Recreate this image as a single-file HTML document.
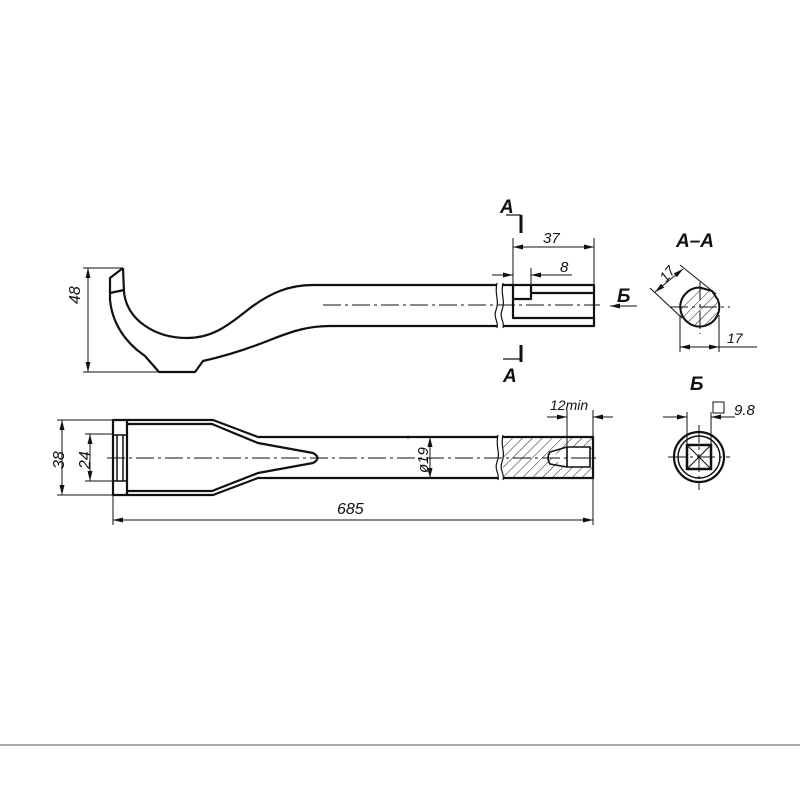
<!DOCTYPE html>
<html><head><meta charset="utf-8"><style>
html,body{margin:0;padding:0;background:#fff;}
svg{display:block;}
text{font-family:"Liberation Sans",sans-serif;font-style:italic;fill:#111;}
</style></head><body>
<svg width="800" height="800" viewBox="0 0 800 800" xmlns="http://www.w3.org/2000/svg">
<defs>
<pattern id="h" width="7" height="7" patternUnits="userSpaceOnUse" patternTransform="rotate(45)">
<line x1="0" y1="0" x2="0" y2="7" stroke="#222" stroke-width="1"/></pattern>
<marker id="a" markerWidth="10" markerHeight="6" refX="10" refY="3" orient="auto-start-reverse" markerUnits="userSpaceOnUse">
<path d="M0,0.5 L10,3 L0,5.5 Z" fill="#111"/></marker>
</defs>
<g fill="none" stroke="#111" stroke-width="2.2" stroke-linejoin="round">
<path d="M123,268 L110,278 L110,300 C112,320 122,337 137,350 L145,356 L159,372 L195,372 L203,361 C230,355 250,348 270,340 C295,330 310,326 330,326 L497,326"/>
<path d="M123,268 L124,292 C127,320 155,338 187,338 C210,338 225,328 245,312 C270,292 290,285 313,285 L497,285"/>
<path d="M110,293 L124,290"/>
<path d="M503,285 L594,285 L594,326 L503,326"/>
<path d="M513,285 L513,318 L594,318 M531,293 L594,293 M513,299 L531,299 L531,285"/>
<rect x="113" y="420" width="14" height="75"/>
<path d="M113,435 L127,435 M113,481 L127,481 M117,435 L117,481 M123,435 L123,481" stroke-width="1.5"/>
<path d="M127,420 L213,420 L258,437 L498,437 M127,495 L213,495 L258,478 L498,478"/>
<path d="M127,424 L212,424 L258,443 L313,453 Q322,458 313,463 L258,473 L212,491 L127,491"/>
<path d="M503,437 L593,437 L593,478 L503,478"/>
</g>
<path d="M503,437 L593,437 L593,478 L503,478 Z M550,458 L567,447 L590,447 L590,467 L567,467 Z" fill="url(#h)" fill-rule="evenodd" stroke="none"/>
<path d="M567,447 L550,452 Q546,458 550,464 L567,467 M567,447 L590,447 L590,467 L567,467 Z" fill="none" stroke="#111" stroke-width="1.6"/>
<g fill="none" stroke="#111" stroke-width="1.2">
<path d="M497,283 C494,295 500,300 496,310 C493,318 499,322 497,328"/>
<path d="M503,283 C500,295 506,300 502,310 C499,318 505,322 503,328"/>
<path d="M498,435 C495,447 501,452 497,462 C494,470 500,474 498,480"/>
<path d="M503,435 C500,447 506,452 502,462 C499,470 505,474 503,480"/>
</g>
<g stroke="#111" stroke-width="1" stroke-dasharray="18,4,3,4" fill="none">
<line x1="323" y1="305" x2="600" y2="305"/>
<line x1="107" y1="458" x2="600" y2="458"/>
<line x1="670" y1="307" x2="730" y2="307"/>
<line x1="700" y1="282" x2="700" y2="334"/>
<line x1="668" y1="457" x2="730" y2="457"/>
<line x1="699" y1="425" x2="699" y2="490"/>
</g>
<g stroke="#111" stroke-width="1" fill="none">
<line x1="83" y1="268" x2="123" y2="268"/><line x1="83" y1="372" x2="160" y2="372"/>
<line x1="88" y1="268" x2="88" y2="372" marker-start="url(#a)" marker-end="url(#a)"/>
<line x1="513" y1="238" x2="513" y2="285"/><line x1="594" y1="238" x2="594" y2="285"/>
<line x1="513" y1="247" x2="594" y2="247" marker-start="url(#a)" marker-end="url(#a)"/>
<line x1="531" y1="268" x2="531" y2="285"/>
<line x1="492" y1="275" x2="513" y2="275" marker-end="url(#a)"/>
<line x1="572" y1="275" x2="531" y2="275" marker-end="url(#a)"/>
<line x1="637" y1="306" x2="610" y2="306" marker-end="url(#a)"/>
<line x1="57" y1="420" x2="113" y2="420"/><line x1="57" y1="495" x2="113" y2="495"/>
<line x1="62" y1="420" x2="62" y2="495" marker-start="url(#a)" marker-end="url(#a)"/>
<line x1="85" y1="434" x2="113" y2="434"/><line x1="85" y1="481" x2="113" y2="481"/>
<line x1="90" y1="434" x2="90" y2="481" marker-start="url(#a)" marker-end="url(#a)"/>
<line x1="113" y1="495" x2="113" y2="525"/><line x1="593" y1="478" x2="593" y2="525"/>
<line x1="113" y1="520" x2="593" y2="520" marker-start="url(#a)" marker-end="url(#a)"/>
<line x1="430" y1="437" x2="430" y2="478" marker-start="url(#a)" marker-end="url(#a)"/>
<line x1="567" y1="410" x2="567" y2="447"/><line x1="593" y1="410" x2="593" y2="437"/>
<line x1="547" y1="417" x2="567" y2="417" marker-end="url(#a)"/>
<line x1="613" y1="417" x2="593" y2="417" marker-end="url(#a)"/>
<line x1="680" y1="315" x2="680" y2="352"/><line x1="719" y1="315" x2="719" y2="352"/>
<line x1="680" y1="347" x2="719" y2="347" marker-start="url(#a)" marker-end="url(#a)"/>
<line x1="719" y1="347" x2="757" y2="347"/>
<line x1="655" y1="292" x2="683" y2="269" marker-start="url(#a)" marker-end="url(#a)"/>
<line x1="650" y1="288" x2="682" y2="318"/><line x1="680" y1="265" x2="716" y2="294"/>
<line x1="687" y1="412" x2="687" y2="447"/><line x1="711" y1="412" x2="711" y2="447"/>
<line x1="663" y1="417" x2="687" y2="417" marker-end="url(#a)"/>
<line x1="735" y1="417" x2="711" y2="417" marker-end="url(#a)"/>
<rect x="713" y="402" width="11" height="11"/>
</g>
<g stroke="#111" fill="none">
<line x1="521" y1="215" x2="521" y2="233" stroke-width="3"/>
<line x1="506" y1="215" x2="521" y2="215" stroke-width="1.2"/>
<line x1="521" y1="345" x2="521" y2="362" stroke-width="3"/>
<line x1="503" y1="359" x2="521" y2="359" stroke-width="1.2"/>
</g>
<path d="M700,287.5 A19.5,19.5 0 1 0 718,300 L712,291 Z" fill="url(#h)" stroke="#111" stroke-width="2"/>
<circle cx="699" cy="457" r="25" fill="none" stroke="#111" stroke-width="2.2"/>
<circle cx="699" cy="457" r="21" fill="none" stroke="#111" stroke-width="1.5"/>
<rect x="687" y="445" width="24" height="24" fill="none" stroke="#111" stroke-width="2.5"/>
<path d="M687,445 L711,469 M711,445 L687,469" stroke="#111" stroke-width="1"/>
<text x="96" y="320" font-size="16" transform="rotate(-90 80 320)">48</text>
<text x="500" y="213" font-size="19" font-weight="bold">А</text>
<text x="503" y="382" font-size="19" font-weight="bold">А</text>
<text x="543" y="243" font-size="15">37</text>
<text x="560" y="272" font-size="15">8</text>
<text x="617" y="302" font-size="19" font-weight="bold">Б</text>
<text x="676" y="247" font-size="19" font-weight="bold">А–А</text>
<text x="727" y="343" font-size="14">17</text>
<text x="660" y="282" font-size="14" transform="rotate(-50 664 276)">17</text>
<text x="690" y="390" font-size="19" font-weight="bold">Б</text>
<text x="734" y="415" font-size="15">9.8</text>
<text x="550" y="410" font-size="14">12min</text>
<text x="45" y="466" font-size="16" transform="rotate(-90 56 458)">38</text>
<text x="71" y="466" font-size="16" transform="rotate(-90 82 458)">24</text>
<text x="405" y="466" font-size="15" transform="rotate(-90 420 458)">ø19</text>
<text x="406" y="442" font-size="9" font-style="normal">*</text>
<text x="337" y="514" font-size="16">685</text>
<line x1="0" y1="745" x2="800" y2="745" stroke="#555" stroke-width="1"/>
</svg>
</body></html>
